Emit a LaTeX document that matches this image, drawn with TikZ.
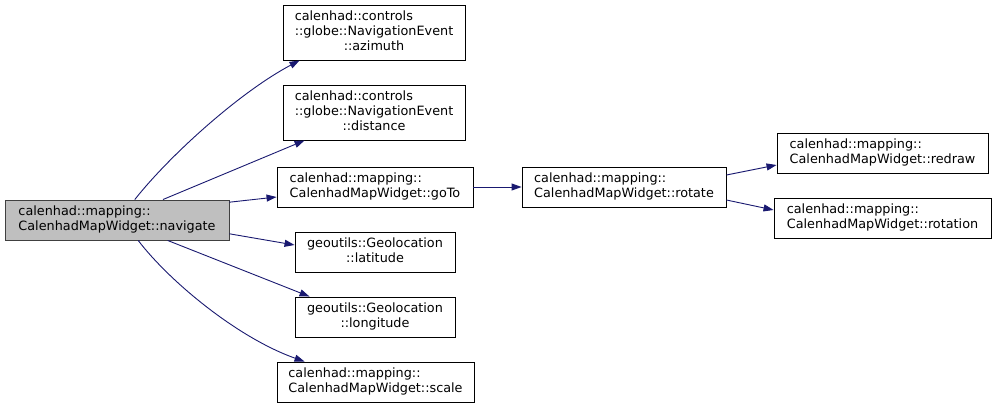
\documentclass[tikz,border=0pt]{standalone}
\usepackage{fontspec}
\setmainfont{DejaVu Sans}
\usepackage{xcolor}
\usepackage{tikz}
\usetikzlibrary{arrows.meta}
\definecolor{edgeblue}{HTML}{191970}
\definecolor{rootgrey}{HTML}{BFBFBF}
\definecolor{rootline}{HTML}{404040}

\begin{document}
\begin{tikzpicture}[
  x=1pt, y=-1pt,
  fn/.style={draw=black, line width=0.9pt, fill=white, inner sep=0pt, font=\fontsize{12.8}{15}\selectfont},
  call/.style={-{Triangle[length=10pt,width=7pt]}, edgeblue, line width=0.9pt}
]
\useasboundingbox (0,0) rectangle (996,409);

% Root
\node[fn, fill=rootgrey, draw=rootline, minimum width=224pt, minimum height=40pt] (nav) at (117,220)
  {\begin{tabular}{@{}l@{}}calenhad::mapping::\\CalenhadMapWidget::navigate\end{tabular}};

% First level
\node[fn, minimum width=182pt, minimum height=55pt] (azimuth) at (374,32.5)
  {\begin{tabular}{@{}l@{}}calenhad::controls\\::globe::NavigationEvent\\\multicolumn{1}{@{}c@{}}{::azimuth}\end{tabular}};
\node[fn, minimum width=182pt, minimum height=55pt] (distance) at (374,112.5)
  {\begin{tabular}{@{}l@{}}calenhad::controls\\::globe::NavigationEvent\\\multicolumn{1}{@{}c@{}}{::distance}\end{tabular}};
\node[fn, minimum width=196pt, minimum height=40pt] (goto) at (375,187)
  {\begin{tabular}{@{}l@{}}calenhad::mapping::\\CalenhadMapWidget::goTo\end{tabular}};
\node[fn, minimum width=160pt, minimum height=40pt] (latitude) at (375,252)
  {\begin{tabular}{@{}l@{}}geoutils::Geolocation\\\multicolumn{1}{@{}c@{}}{::latitude}\end{tabular}};
\node[fn, minimum width=160pt, minimum height=40pt] (longitude) at (375,317)
  {\begin{tabular}{@{}l@{}}geoutils::Geolocation\\\multicolumn{1}{@{}c@{}}{::longitude}\end{tabular}};
\node[fn, minimum width=197pt, minimum height=40pt] (scale) at (375.5,382)
  {\begin{tabular}{@{}l@{}}calenhad::mapping::\\CalenhadMapWidget::scale\end{tabular}};

% Second and third level
\node[fn, minimum width=204pt, minimum height=40pt] (rotate) at (624,187)
  {\begin{tabular}{@{}l@{}}calenhad::mapping::\\CalenhadMapWidget::rotate\end{tabular}};
\node[fn, minimum width=211pt, minimum height=40pt] (redraw) at (882.5,153)
  {\begin{tabular}{@{}l@{}}calenhad::mapping::\\CalenhadMapWidget::redraw\end{tabular}};
\node[fn, minimum width=217pt, minimum height=40pt] (rotation) at (882.5,218)
  {\begin{tabular}{@{}l@{}}calenhad::mapping::\\CalenhadMapWidget::rotation\end{tabular}};

% Calls from navigate
\draw[call] (nav.49) .. controls (170,155) and (240,92) .. ([xshift=17]azimuth.south west);
\draw[call] (nav.24) -- ([xshift=22]distance.south west);
\draw[call] (nav.9) -- ([yshift=-10]goto.west);
\draw[call] (nav.-7.5) -- ([yshift=7]latitude.west);
\draw[call] (nav.-22) -- ([xshift=15]longitude.north west);
\draw[call] (nav.-44) .. controls (170,282) and (238,338) .. ([xshift=28]scale.north west);

% Calls further down
\draw[call] (goto.east) -- (rotate.west);
\draw[call] ([yshift=12]rotate.east) -- ([yshift=-12]redraw.west);
\draw[call] ([yshift=-13]rotate.east) -- ([yshift=8]rotation.west);
\end{tikzpicture}
\end{document}
